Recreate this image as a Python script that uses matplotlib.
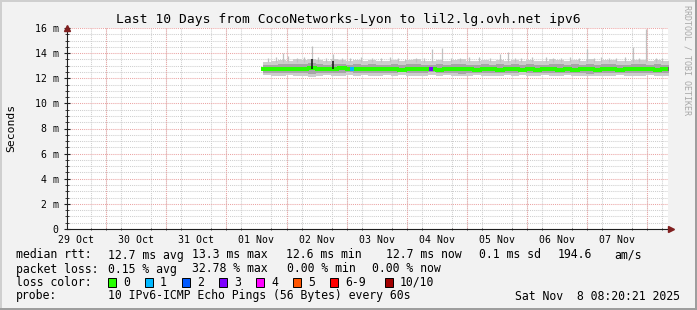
import datetime as dt
import numpy as np
import matplotlib
matplotlib.use("Agg")
import matplotlib.pyplot as plt
import matplotlib.dates as mdates
from matplotlib.patches import Rectangle

# ---- data (ms), one value every 3 h starting at data_start
data_start = dt.datetime(2025, 11, 1, 14, 40)
med = [12.74, 12.72, 12.75, 12.73, 12.76, 12.74, 12.80, 12.75, 12.73, 12.76,
       12.78, 12.74, 12.71, 12.73, 12.70, 12.72, 12.74, 12.71, 12.69, 12.72,
       12.70, 12.73, 12.71, 12.68, 12.72, 12.70, 12.74, 12.71, 12.69, 12.72,
       12.70, 12.67, 12.71, 12.73, 12.69, 12.71, 12.66, 12.70, 12.72, 12.68,
       12.71, 12.69, 12.73, 12.70, 12.66, 12.70, 12.72, 12.69, 12.71, 12.70,
       12.74, 12.71, 12.69, 12.72, 12.70]
hi3 = [13.30, 13.35, 13.45, 13.40, 13.50, 13.42, 13.55, 13.45, 13.40, 13.50,
       13.48, 13.38, 13.42, 13.35, 13.45, 13.40, 13.38, 13.47, 13.36, 13.42,
       13.50, 13.40, 13.35, 13.45, 13.38, 13.42, 13.52, 13.40, 13.36, 13.44,
       13.40, 13.48, 13.38, 13.42, 13.35, 13.46, 13.40, 13.38, 13.50, 13.42,
       13.36, 13.44, 13.40, 13.52, 13.38, 13.42, 13.46, 13.36, 13.40, 13.48,
       13.42, 13.38, 13.45, 13.40, 13.36]
lo3 = [12.25, 12.20, 12.18, 12.22, 12.15, 12.20, 12.12, 12.18, 12.22, 12.16,
       12.20, 12.24, 12.18, 12.22, 12.20, 12.16, 12.22, 12.19, 12.24, 12.18,
       12.15, 12.21, 12.24, 12.18, 12.22, 12.19, 12.14, 12.20, 12.23, 12.18,
       12.21, 12.16, 12.22, 12.19, 12.24, 12.17, 12.20, 12.22, 12.15, 12.19,
       12.23, 12.18, 12.21, 12.14, 12.20, 12.18, 12.16, 12.22, 12.19, 12.15,
       12.20, 12.22, 12.17, 12.20, 12.22]
hi2 = [13.05, 13.08, 13.12, 13.10, 13.15, 13.10, 13.18, 13.12, 13.08, 13.14,
       13.12, 13.08, 13.10, 13.05, 13.12, 13.08, 13.06, 13.12, 13.05, 13.10,
       13.14, 13.08, 13.05, 13.12, 13.06, 13.10, 13.15, 13.08, 13.05, 13.10,
       13.08, 13.12, 13.06, 13.10, 13.04, 13.12, 13.08, 13.06, 13.14, 13.10,
       13.05, 13.10, 13.08, 13.15, 13.06, 13.10, 13.12, 13.05, 13.08, 13.12,
       13.10, 13.06, 13.12, 13.08, 13.05]
lo2 = [12.45, 12.42, 12.40, 12.44, 12.38, 12.42, 12.36, 12.40, 12.44, 12.40,
       12.42, 12.46, 12.40, 12.44, 12.42, 12.38, 12.44, 12.41, 12.46, 12.40,
       12.38, 12.43, 12.46, 12.40, 12.44, 12.41, 12.37, 12.42, 12.45, 12.40,
       12.43, 12.38, 12.44, 12.41, 12.46, 12.39, 12.42, 12.44, 12.38, 12.41,
       12.45, 12.40, 12.43, 12.37, 12.42, 12.40, 12.38, 12.44, 12.41, 12.38,
       12.42, 12.44, 12.40, 12.42, 12.44]
hi1 = [12.88, 12.86, 12.90, 12.88, 12.92, 12.89, 12.95, 12.90, 12.87, 12.91,
       12.93, 12.88, 12.86, 12.88, 12.85, 12.87, 12.89, 12.86, 12.84, 12.87,
       12.85, 12.88, 12.86, 12.83, 12.87, 12.85, 12.89, 12.86, 12.84, 12.87,
       12.85, 12.82, 12.86, 12.88, 12.84, 12.86, 12.81, 12.85, 12.87, 12.83,
       12.86, 12.84, 12.88, 12.85, 12.81, 12.85, 12.87, 12.84, 12.86, 12.85,
       12.89, 12.86, 12.84, 12.87, 12.85]
lo1 = [12.58, 12.56, 12.59, 12.57, 12.60, 12.58, 12.63, 12.59, 12.57, 12.60,
       12.62, 12.58, 12.55, 12.57, 12.54, 12.56, 12.58, 12.55, 12.53, 12.56,
       12.54, 12.57, 12.55, 12.52, 12.56, 12.54, 12.58, 12.55, 12.53, 12.56,
       12.54, 12.51, 12.55, 12.57, 12.53, 12.55, 12.50, 12.54, 12.56, 12.52,
       12.55, 12.53, 12.57, 12.54, 12.50, 12.54, 12.56, 12.53, 12.55, 12.54,
       12.58, 12.55, 12.53, 12.56, 12.54]

# single-ping spikes: hours after data_start, top value
spike_h = [2.0, 5.2, 8.0, 10.0, 13.6, 16.4, 19.4, 22.0, 25.0, 28.0, 31.6, 34.8,
           39.2, 43.6, 47.0, 50.8, 54.0, 56.8, 61.2, 64.4, 67.6, 71.6, 75.2,
           78.8, 82.4, 86.0, 90.4, 94.4, 97.6, 100.4, 102.8, 107.2, 112.8,
           115.6, 118.8, 122.4, 126.0, 129.2, 132.0, 134.8, 138.0, 140.8,
           144.4, 147.6, 150.0, 152.8, 156.8, 159.2]
spike_top = [13.6, 13.7, 14.0, 13.8, 13.6, 13.7, 14.6, 13.7, 13.6, 13.9, 13.6,
             13.6, 13.7, 13.6, 13.65, 13.7, 13.6, 13.5, 13.65, 13.6, 14.3, 14.4,
             13.6, 13.6, 13.7, 13.7, 13.6, 13.9, 14.1, 13.65, 13.6, 13.7, 13.7,
             13.6, 13.6, 13.7, 13.6, 14.3, 13.65, 13.7, 13.6, 13.6, 13.7, 14.5,
             13.65, 15.9, 13.6, 13.65]
dark_h = [19.4, 27.9]
dark_top = [13.5, 13.35]
loss_h = [35.6, 67.2]
loss_lvl = [1, 3]

loss_cols = ['#26ff00', '#00b8ff', '#0059ff', '#7e00ff', '#ff00ff',
             '#ff5500', '#ff0000', '#a10000']
loss_names = ['0', '1', '2', '3', '4', '5', '6-9', '10/10']
loss_x = [108, 145, 182, 219, 256, 293, 330, 385]

y_ticks = [0, 2, 4, 6, 8, 10, 12, 14, 16]
t_start = dt.datetime(2025, 10, 29, 8, 20, 21)
t_end = dt.datetime(2025, 11, 8, 8, 20, 21)

W, H = 697, 310
MONO = 'DejaVu Sans Mono'
fig = plt.figure(figsize=(W / 100, H / 100), dpi=100, facecolor='#f2f2f2')


def fx(x):
    return x / W


def fy(y):
    return 1 - y / H


# shaded frame
fig.add_artist(Rectangle((0, fy(2)), 1, 2 / H, transform=fig.transFigure, color='#cfcfcf', lw=0))
fig.add_artist(Rectangle((0, 0), 2 / W, 1, transform=fig.transFigure, color='#cfcfcf', lw=0))
fig.add_artist(Rectangle((0, 0), 1, 2 / H, transform=fig.transFigure, color='#9e9e9e', lw=0))
fig.add_artist(Rectangle((fx(W - 2), 0), 2 / W, 1, transform=fig.transFigure, color='#9e9e9e', lw=0))

ax = fig.add_axes([fx(67), fy(229), (668 - 67) / W, (229 - 28) / H])
ax.set_facecolor('white')

times = [data_start + dt.timedelta(hours=3 * i) for i in range(len(med))]
ax.fill_between(times, lo3, hi3, step='post', color='#cdcdcd', lw=0, zorder=2)
ax.fill_between(times, lo2, hi2, step='post', color='#a6a6a6', lw=0, zorder=2.1)
ax.fill_between(times, lo1, hi1, step='post', color='#6a6a6a', lw=0, zorder=2.2)

sp_t = [data_start + dt.timedelta(hours=h) for h in spike_h]
ax.vlines(sp_t, 13.3, spike_top, color='#c0c0c0', lw=0.9, zorder=2.05)
dk_t = [data_start + dt.timedelta(hours=h) for h in dark_h]
ax.vlines(dk_t, 12.75, dark_top, color='#111111', lw=1.1, zorder=3.1)

ax.step(times, med, where='post', color=loss_cols[0], lw=1.6, zorder=3, antialiased=False)
for h, lv in zip(loss_h, loss_lvl):
    ax.plot([data_start + dt.timedelta(hours=h)], [12.72], marker='s', ms=2.6,
            color=loss_cols[lv], mew=0, zorder=3.2)

ax.set_xlim(t_start, t_end)
ax.set_ylim(0, 16)

# grids
ax.set_yticks(y_ticks)
ax.set_yticklabels(['0'] + [f'{v} m' for v in y_ticks[1:]])
ax.set_yticks(np.arange(0, 16.01, 0.5), minor=True)
ax.xaxis.set_major_locator(mdates.HourLocator(byhour=[12]))
ax.xaxis.set_major_formatter(mdates.DateFormatter('%d %b'))
ax.xaxis.set_minor_locator(mdates.HourLocator(byhour=[0, 6, 12, 18]))

dots = (0, (1, 1))
ax.grid(True, which='minor', color='#cecece', lw=0.75, ls=dots)
ax.grid(True, which='major', axis='y', color='#eba4a4', lw=0.75, ls=dots)
ax.grid(False, which='major', axis='x')
midnights = [dt.datetime(2025, 10, 30) + dt.timedelta(days=k) for k in range(10)]
for d in midnights:
    ax.axvline(d, color='#eba4a4', lw=0.75, ls=dots, zorder=0.6)
ax.set_axisbelow(True)

for s in ['top', 'right']:
    ax.spines[s].set_visible(False)
for s in ['left', 'bottom']:
    ax.spines[s].set_color('#1f1f1f')
    ax.spines[s].set_linewidth(0.8)

ax.tick_params(axis='x', which='major', length=0, pad=4, labelsize=7.1, labelfontfamily=MONO)
ax.tick_params(axis='x', which='minor', length=2, color='#1f1f1f', direction='inout')
ax.tick_params(axis='y', which='major', length=4, pad=4, color='#1f1f1f', direction='inout',
               labelsize=7.1, labelfontfamily=MONO)
ax.tick_params(axis='y', which='minor', length=3, color='#1f1f1f', direction='inout')

# arrows
ax.plot([0], [1.0], marker='^', ms=5, color='#801f1f', transform=ax.transAxes, clip_on=False, zorder=5)
ax.plot([1.005], [0], marker='>', ms=5, color='#801f1f', transform=ax.transAxes, clip_on=False, zorder=5)

# texts
fig.text(fx(348), fy(19), 'Last 10 Days from CocoNetworks-Lyon to lil2.lg.ovh.net ipv6',
         family=MONO, fontsize=9.4, ha='center', va='center')
fig.text(fx(11), fy(128), 'Seconds', family=MONO, fontsize=8.2, rotation=90,
         ha='center', va='center')
fig.text(fx(687), fy(5), 'RRDTOOL / TOBI OETIKER', family=MONO, fontsize=6, rotation=270,
         ha='center', va='top', color='#a8a8a8')

row1 = [(16, 'median rtt:'), (108, '12.7 ms avg'), (192, '13.3 ms max'),
        (286, '12.6 ms min'), (386, '12.7 ms now'), (479, '0.1 ms sd'),
        (558, '194.6'), (614, 'am/s')]
row2 = [(16, 'packet loss:'), (108, '0.15 % avg'), (192, '32.78 % max'),
        (287, '0.00 % min'), (372, '0.00 % now')]
for x, s in row1:
    fig.text(fx(x), fy(255), s, family=MONO, fontsize=8.3, va='center')
for x, s in row2:
    fig.text(fx(x), fy(269), s, family=MONO, fontsize=8.3, va='center')

fig.text(fx(16), fy(282), 'loss color:', family=MONO, fontsize=8.3, va='center')
for x, c, n in zip(loss_x, loss_cols, loss_names):
    fig.add_artist(Rectangle((fx(x), fy(287)), 8 / W, 9 / H, transform=fig.transFigure,
                             facecolor=c, edgecolor='black', lw=0.7))
    fig.text(fx(x + 15), fy(282), n, family=MONO, fontsize=8.3, va='center')

fig.text(fx(16), fy(296), 'probe:', family=MONO, fontsize=8.3, va='center')
fig.text(fx(108), fy(296), '10 IPv6-ICMP Echo Pings (56 Bytes) every 60s',
         family=MONO, fontsize=8.3, va='center')
fig.text(fx(680), fy(296), 'Sat Nov  8 08:20:21 2025', family=MONO, fontsize=8.3,
         va='center', ha='right')

fig.savefig('out.png', dpi=100, facecolor=fig.get_facecolor())
